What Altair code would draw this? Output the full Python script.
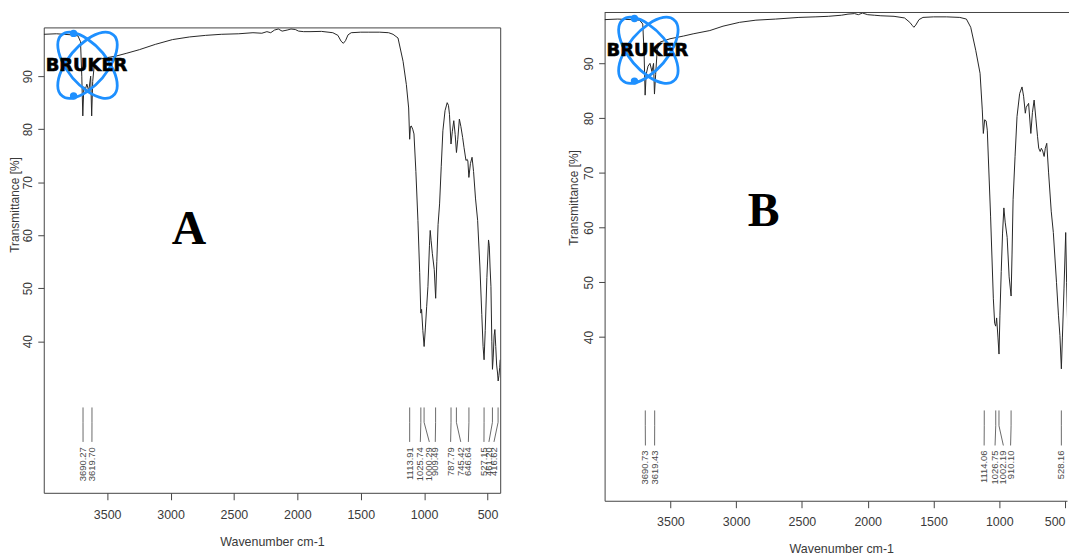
import altair as alt
import pandas as pd

# ---------------- data ----------------
a_wavenumber = [4000, 3900, 3780, 3730, 3710, 3700, 3692, 3684, 3672, 3660, 3645, 3630, 3622, 3614, 3600,
                3560, 3500, 3429, 3350, 3246, 3120, 2985, 2850, 2723, 2600, 2462, 2350, 2280, 2240, 2210,
                2180, 2150, 2120, 2080, 2050, 2016, 1990, 1950, 1900, 1810, 1720, 1680, 1655, 1637, 1620,
                1600, 1575, 1500, 1441, 1350, 1280, 1245, 1206, 1166, 1140, 1122, 1114, 1108, 1101, 1090,
                1080, 1065, 1049, 1035, 1026, 1020, 1010, 1000, 990, 980, 970, 958, 952, 945, 935,
                920, 909, 900, 890, 878, 865, 852, 835, 818, 808, 800, 788, 778, 766, 755,
                745, 735, 722, 710, 696, 685, 670, 660, 655, 647, 635, 622, 610, 595, 578,
                560, 545, 535, 527, 518, 505, 492, 486, 480, 473, 466, 461, 455, 448, 442,
                435, 428, 421, 416, 410, 404, 400]
a_transmittance = [97.9, 98.0, 97.8, 97.6, 96.5, 90.0, 82.5, 88.0, 87.5, 88.5, 87.2, 90.0, 82.5, 89.0, 92.5,
                   93.2, 93.5, 93.8, 94.3, 95.0, 96.0, 96.9, 97.4, 97.7, 97.9, 98.0, 98.2, 98.1, 98.4, 98.2,
                   98.7, 98.9, 98.5, 98.7, 98.9, 98.8, 98.5, 98.4, 98.4, 98.45, 98.2, 97.7, 96.6, 96.2, 96.7,
                   97.8, 98.2, 98.3, 98.3, 98.3, 98.2, 97.9, 97.2, 92.8, 88.4, 84.0, 78.1, 80.5, 80.6, 80.0,
                   79.1, 72.0, 62.8, 53.0, 45.3, 46.0, 42.0, 39.0, 42.5, 46.5, 50.3, 58.0, 60.9, 59.0, 56.5,
                   53.5, 48.1, 55.0, 62.0, 65.9, 73.0, 79.7, 83.5, 85.0, 84.5, 82.8, 77.2, 79.5, 81.6, 79.0,
                   75.6, 78.0, 81.9, 80.5, 78.4, 76.5, 74.1, 74.3, 74.0, 70.9, 73.5, 74.7, 72.0, 67.0, 62.8,
                   54.0, 45.0, 39.0, 36.5, 42.0, 52.0, 59.1, 58.0, 54.0, 50.3, 40.0, 34.7, 37.0, 41.0, 42.2,
                   39.0, 35.5, 34.0, 32.5, 33.5, 35.0, 36.5]

b_wavenumber = [4000, 3900, 3800, 3735, 3710, 3700, 3692, 3684, 3670, 3655, 3640, 3628, 3621, 3612, 3600,
                3578, 3503, 3400, 3327, 3200, 3100, 2975, 2850, 2700, 2523, 2400, 2300, 2200, 2150, 2100,
                2071, 2040, 2000, 1950, 1900, 1800, 1720, 1680, 1660, 1649, 1635, 1610, 1580, 1500, 1400,
                1300, 1250, 1217, 1179, 1146, 1129, 1121, 1111, 1100, 1091, 1066, 1045, 1035, 1027, 1020,
                1010, 1002, 995, 985, 975, 965, 955, 940, 925, 910, 903, 895, 880, 865, 845,
                827, 815, 802, 795, 777, 760, 748, 735, 722, 709, 700, 689, 680, 670, 659,
                650, 639, 625, 605, 589, 565, 550, 539, 528, 520, 508, 495, 488, 480]
b_transmittance = [98.0, 98.1, 98.0, 97.9, 97.2, 92.0, 84.2, 88.0, 89.5, 90.0, 88.5, 90.0, 84.4, 88.0, 92.5,
                   93.9, 94.5, 95.0, 95.4, 96.0, 96.8, 97.5, 97.9, 98.1, 98.4, 98.5, 98.6, 98.8, 99.0, 99.1,
                   98.9, 99.2, 98.9, 98.8, 98.7, 98.6, 98.3, 97.5, 96.9, 96.6, 97.0, 98.0, 98.4, 98.5, 98.5,
                   98.4, 98.1, 96.6, 92.4, 88.2, 81.5, 77.2, 79.7, 79.5, 77.8, 62.1, 47.0, 42.5, 42.0, 43.5,
                   40.0, 36.9, 44.0, 52.0, 59.0, 63.6, 61.0, 58.2, 51.0, 47.5, 55.0, 65.1, 73.0, 80.3, 84.5,
                   85.7, 84.0, 80.9, 82.0, 82.7, 77.2, 81.0, 83.3, 80.0, 76.6, 74.5, 73.9, 74.5, 74.0, 73.0,
                   74.5, 75.4, 70.0, 63.0, 59.1, 50.0, 44.0, 40.3, 34.2, 40.0, 48.8, 59.1, 50.0, 42.0]

a_peak_wn = [3690.27, 3619.70, 1113.91, 1025.74, 1000.29, 909.49, 787.79, 745.42, 646.64, 527.15, 461.20, 416.62]
a_peak_text = ["3690.27", "3619.70", "1113.91", "1025.74", "1000.29", "909.49", "787.79", "745.42",
               "646.64", "527.15", "461.20", "416.62"]
a_label_wn = [3690, 3620, 1114, 1030, 959, 912, 791, 711, 651, 528, 489, 449]

b_peak_wn = [3690.73, 3619.43, 1114.06, 1026.75, 1002.19, 910.10, 528.16]
b_peak_text = ["3690.73", "3619.43", "1114.06", "1026.75", "1002.19", "910.10", "528.16"]
b_label_wn = [3690, 3620, 1115, 1032, 969, 914, 528]

panel_letters = ["A", "B"]
letter_wn = [2855, 2791]
letter_tr = [60.9, 62.75]

x_ticks = [3500, 3000, 2500, 2000, 1500, 1000, 500]
y_ticks = [40, 50, 60, 70, 80, 90]

# ---------------- style ----------------
NARROW = "Liberation Sans Narrow, Arial Narrow, Liberation Sans, sans-serif"
SANS = "Liberation Sans, Arial, sans-serif"
FRAME = "#444444"
TXT = "#3a3a3a"
BLUE = "#1E90FF"

ELLIPSE_1 = "M0.571,0.681A0.889,0.422,50,1,1,-0.571,-0.681A0.889,0.422,50,1,1,0.571,0.681Z"
ELLIPSE_2 = "M-0.571,0.681A0.889,0.422,-50,1,1,0.571,-0.681A0.889,0.422,-50,1,1,-0.571,0.681Z"


def one_row():
    return pd.DataFrame({"k": [0]})


def x_axis(label_pad, title_pad, title_x=None, open_right=False):
    kw = dict(values=x_ticks, title="Wavenumber cm-1", grid=False, domain=open_right, domainColor=FRAME,
              tickSize=7, tickColor=FRAME, labelPadding=label_pad, labelFontSize=12.5, labelFont=NARROW,
              labelColor=TXT, titleFont=NARROW, titleFontSize=12.5, titleFontWeight="normal",
              titleColor=TXT, titlePadding=title_pad, format="d", labelFlush=3)
    if title_x is not None:
        kw["titleX"] = title_x
    return alt.Axis(**kw)


def y_axis(title_y, title_pad, open_right=False):
    return alt.Axis(values=y_ticks, title="Transmittance [%]", grid=False, domain=open_right,
                    domainColor=FRAME, tickSize=6, tickColor=FRAME, labelAngle=270, labelAlign="center",
                    labelBaseline="bottom", labelPadding=3, labelFontSize=12, labelFont=SANS,
                    labelColor=TXT, titleFont=SANS, titleFontSize=12, titleFontWeight="normal",
                    titleColor=TXT, titlePadding=title_pad, titleY=title_y)


def panel(wn, tr, peak_wn, peak_text, label_wn, letter, lwn, ltr,
          xdom, ydom, w, h, tick_levels, xax, yax, right_open):
    xs = alt.Scale(domain=xdom, reverse=True, nice=False, zero=False)
    ys = alt.Scale(domain=ydom, nice=False, zero=False)

    def X():
        return alt.X("wn:Q", scale=xs, axis=xax)

    def Y():
        return alt.Y("t:Q", scale=ys, axis=yax)

    spec = pd.DataFrame({"wn": wn, "t": tr, "i": list(range(len(wn)))})
    line = alt.Chart(spec).mark_line(color="#262626", strokeWidth=1, clip=True).encode(
        x=X(), y=Y(), order="i:O")

    t_top, t_mid, t_bot, t_txt = tick_levels
    rows = []
    for i, (p, l) in enumerate(zip(peak_wn, label_wn)):
        rows.append({"pid": i, "seg": 0, "wn": p, "t": t_top})
        rows.append({"pid": i, "seg": 1, "wn": p, "t": t_mid})
        rows.append({"pid": i, "seg": 2, "wn": l, "t": t_bot})
    pl = alt.Chart(pd.DataFrame(rows)).mark_line(color="#6a6a6a", strokeWidth=1).encode(
        x=X(), y=Y(), detail="pid:N", order="seg:O")
    ptxt = alt.Chart(pd.DataFrame({"wn": label_wn, "lab": peak_text, "t": [t_txt] * len(label_wn)})).mark_text(
        angle=270, align="right", baseline="middle", fontSize=9.5, font=SANS, color="#4a4a4a"
    ).encode(x=X(), y=Y(), text="lab:N")

    big = alt.Chart(pd.DataFrame({"wn": [lwn], "t": [ltr], "lab": [letter]})).mark_text(
        font="Liberation Serif, Times New Roman, serif", fontWeight="bold", fontSize=48, color="black"
    ).encode(x=X(), y=Y(), text="lab:N")

    # logo (decoration)
    e1 = alt.Chart(one_row()).mark_point(shape=ELLIPSE_1, size=8100, filled=False, stroke=BLUE,
                                         strokeWidth=2.8, opacity=1).encode(x=alt.value(44), y=alt.value(38))
    e2 = alt.Chart(one_row()).mark_point(shape=ELLIPSE_2, size=8100, filled=False, stroke=BLUE,
                                         strokeWidth=2.8, opacity=1).encode(x=alt.value(44), y=alt.value(38))
    d1 = alt.Chart(one_row()).mark_point(shape="circle", size=55, filled=True, color=BLUE, opacity=1).encode(
        x=alt.value(30), y=alt.value(6))
    d2 = alt.Chart(one_row()).mark_point(shape="circle", size=55, filled=True, color=BLUE, opacity=1).encode(
        x=alt.value(30), y=alt.value(69))
    brand = alt.Chart(one_row()).mark_text(text="BRUKER", font="DejaVu Sans", fontWeight="bold", fontSize=18,
                                           color="black", stroke="black", strokeWidth=0.6).encode(
        x=alt.value(43), y=alt.value(38.5))

    layers = [line, pl, ptxt, e1, e2, d1, d2, brand, big]
    if right_open:
        top = alt.Chart(one_row()).mark_rule(color=FRAME, strokeWidth=1).encode(
            x=alt.value(0), x2=alt.value(w + 2), y=alt.value(0))
        layers.append(top)
        view = alt.ViewBackground(stroke="transparent")
    else:
        view = alt.ViewBackground(stroke=FRAME, strokeWidth=1)
    return alt.layer(*layers).properties(width=w, height=h, view=view)


left = panel(a_wavenumber, a_transmittance, a_peak_wn, a_peak_text, a_label_wn,
             panel_letters[0], letter_wn[0], letter_tr[0],
             [400, 4000], [11.4, 99.2], 459, 468, (27.5, 24.7, 21.0, 20.0),
             x_axis(9, 14), y_axis(178, 0), False)

spacer = alt.Chart(one_row()).mark_point(opacity=0).encode(
    x=alt.value(0), y=alt.value(0)).properties(
    width=10, height=12, view=alt.ViewBackground(fill="white", stroke="transparent"))

left_col = alt.vconcat(spacer, left, spacing=0)

right = panel(b_wavenumber, b_transmittance, b_peak_wn, b_peak_text, b_label_wn,
              panel_letters[1], letter_wn[1], letter_tr[1],
              [485, 4000], [10.1, 99.3], 465, 491, (26.6, 23.8, 20.2, 19.3),
              x_axis(8, 15, title_x=238, open_right=True), y_axis(186, 2, open_right=True), True)

chart = alt.hconcat(left_col, right, spacing=66).properties(
    padding={"left": 8, "top": 7, "right": 0, "bottom": 0},
    background="white",
)

chart.save("out.html", embed_options={"renderer": "svg", "actions": False})
